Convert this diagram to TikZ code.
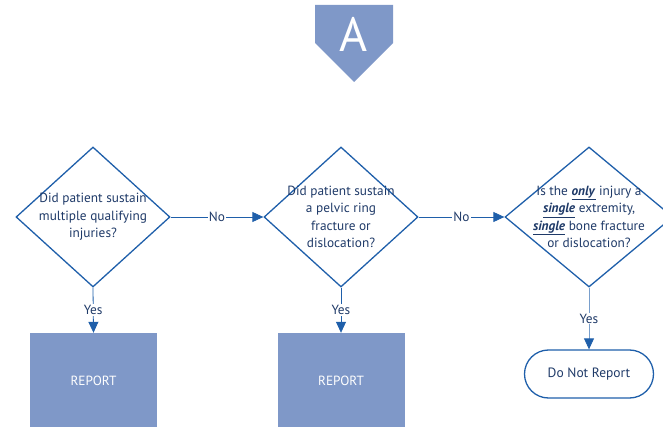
\documentclass[tikz,border=0pt]{standalone}
\usepackage{fontspec}
\setmainfont{PT Sans}
\usetikzlibrary{positioning,arrows.meta,shapes.geometric}
\definecolor{flowline}{HTML}{1F5FAA}
\definecolor{flowtext}{HTML}{1F3A68}
\definecolor{flowfill}{HTML}{7F98C8}
\tikzset{
    decision/.style = {
        draw=flowline,
        shape=diamond,
        minimum width=154pt,
        minimum height=140pt,
        inner sep=0pt,
        line width=1.3pt
    },
    question/.style = {
        text=flowtext,
        align=center,
        font=\fontsize{13.3}{17.5}\selectfont
    },
    report/.style = {
        fill=flowfill,
        shape=rectangle,
        minimum width=127pt,
        minimum height=96pt,
        text=white,
        font=\fontsize{13.3}{15}\selectfont
    },
    terminal/.style = {
        draw=flowline,
        shape=rectangle,
        rounded corners=24pt,
        minimum width=129pt,
        minimum height=48pt,
        line width=1.3pt,
        text=flowtext,
        font=\fontsize{13.5}{15}\selectfont
    },
    answer/.style = {
        fill=white,
        inner sep=1pt,
        text=flowtext,
        font=\fontsize{13.3}{15}\selectfont
    },
    >={Triangle[length=11pt,width=10pt]},
}
\newcommand{\keyword}[1]{\underline{\textbf{\textit{#1}}}}

\begin{document}
\begin{tikzpicture}[x=1pt,y=-1pt]
            \useasboundingbox (0,0) rectangle (663,427);
            \clip (0,0) rectangle (663,427);

            \fill[flowfill] (315,5) -- (393,5) -- (393,43) -- (354,82) -- (315,43) -- cycle;
            \node[text=white, font=\fontsize{48}{48}\selectfont] (badge) at (354,34) {A};

            \node[decision, label={[question]center:Did patient sustain\\multiple qualifying\\injuries?}] (multiple) at (93,217) {};
            \node[decision, label={[question]center:Did patient sustain\\a pelvic ring\\fracture or\\dislocation?}] (pelvic) at (341,217) {};
            \node[decision, minimum width=168pt, label={[question]center:Is the \keyword{only} injury a\\\keyword{single} extremity,\\\keyword{single} bone fracture\\or dislocation?}] (isolated) at (589,217) {};

            \node[report] (reportA) at (93.5,381) {REPORT};
            \node[report] (reportB) at (341,381) {REPORT};
            \node[terminal] (noreport) at (589,374) {Do Not Report};

            \path[draw=flowline, line width=0.8pt, ->] (multiple.east) -- (pelvic.west) node [midway, answer] {No};
            \path[draw=flowline, line width=0.8pt, ->] (pelvic.east) -- (isolated.west) node [midway, answer] {No};
            \path[draw=flowline, line width=0.8pt, ->] (multiple.south) -- (reportA.north) node [midway, answer] {Yes};
            \path[draw=flowline, line width=0.8pt, ->] (pelvic.south) -- (reportB.north) node [midway, answer] {Yes};
            \path[draw=flowline!60, line width=0.8pt, -{Triangle[length=11pt,width=10pt,color=flowline]}] (isolated.south) -- (noreport.north) node [midway, answer] {Yes};

        \end{tikzpicture}
\end{document}
